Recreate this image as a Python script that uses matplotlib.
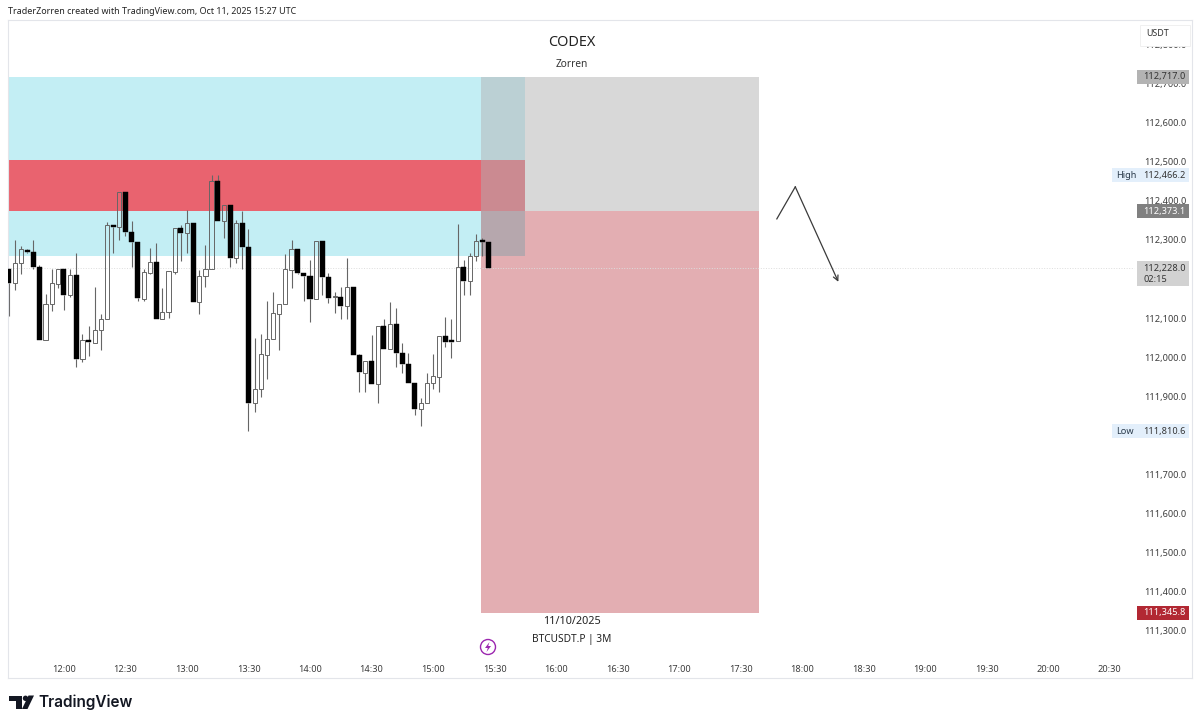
import matplotlib
matplotlib.use("Agg")
import matplotlib.pyplot as plt
from matplotlib.patches import Rectangle, Polygon, Circle

plt.rcParams['font.family'] = ['Noto Sans', 'DejaVu Sans']

# bars are numbered from the 12:00 candle, 3 minutes each
first_bar = -9
opens = [112227, 112191, 112242, 112274, 112269, 112232, 112043, 112136, 112187, 112225,
         112159, 112211, 111995, 112045, 112037, 112071, 112099, 112339, 112334, 112423,
         112321, 112295, 112150, 112216, 112243, 112099, 112116, 112219, 112330, 112319,
         112344, 112142, 112208, 112227, 112451, 112349, 112389, 112255, 112343, 112283,
         111882, 111919, 112007, 112046, 112111, 112137, 112223, 112277, 112215, 112208,
         112149, 112297, 112206, 112154, 112153, 112132, 112179, 112007, 111961, 111990,
         111931, 112080, 112020, 112085, 112012, 111984, 111935, 111868, 111883, 111935,
         111950, 112054, 112042, 112042, 112230, 112196, 112259, 112298, 112295]
highs = [112227, 112300, 112285, 112276, 112300, 112236, 112161, 112226, 112225, 112225,
         112225, 112268, 112059, 112080, 112179, 112110, 112345, 112339, 112423, 112423,
         112349, 112295, 112227, 112280, 112293, 112176, 112220, 112330, 112339, 112377,
         112344, 112223, 112288, 112465, 112466, 112389, 112389, 112350, 112375, 112327,
         112049, 112059, 112143, 112167, 112137, 112264, 112300, 112277, 112215, 112250,
         112297, 112297, 112215, 112167, 112179, 112255, 112179, 112009, 111991, 112058,
         112080, 112099, 112142, 112127, 112037, 112012, 111935, 111895, 111959, 112009,
         112054, 112102, 112099, 112341, 112249, 112266, 112315, 112304, 112295]
lows = [112105, 112173, 112213, 112268, 112226, 112045, 112043, 112118, 112176, 112122,
        112155, 111976, 111989, 112002, 112037, 112018, 112099, 112268, 112300, 112309,
        112230, 112143, 112144, 112212, 112099, 112099, 112101, 112213, 112247, 112268,
        112142, 112110, 112180, 112227, 112349, 112304, 112232, 112240, 112226, 111811,
        111859, 111899, 111945, 112046, 112018, 112137, 112178, 112213, 112144, 112090,
        112149, 112159, 112139, 112112, 112099, 112099, 112007, 111912, 111912, 111931,
        111882, 112020, 112020, 111976, 111959, 111935, 111852, 111824, 111883, 111919,
        111912, 112026, 111997, 112042, 112160, 112160, 112247, 112259, 112228]
closes = [112191, 112242, 112276, 112269, 112232, 112045, 112137, 112189, 112225, 112159,
          112211, 111995, 112045, 112038, 112071, 112099, 112339, 112334, 112423, 112321,
          112295, 112151, 112218, 112243, 112099, 112116, 112220, 112330, 112319, 112344,
          112142, 112209, 112227, 112451, 112349, 112389, 112255, 112343, 112281, 111882,
          111919, 112009, 112048, 112112, 112137, 112225, 112277, 112215, 112208, 112149,
          112297, 112206, 112152, 112155, 112132, 112179, 112007, 111962, 111990, 111931,
          112080, 112020, 112086, 112012, 111984, 111935, 111868, 111883, 111935, 111951,
          112054, 112039, 112040, 112230, 112196, 112259, 112298, 112296, 112228]

price_ticks = [112800, 112700, 112600, 112500, 112400, 112300, 112100, 112000, 111900,
               111700, 111600, 111500, 111400, 111300]
time_bars = [0, 10, 20, 30, 40, 50, 60, 70, 80, 90, 100, 110, 120, 130, 140, 150, 160, 170]
time_labels = ["12:00", "12:30", "13:00", "13:30", "14:00", "14:30", "15:00", "15:30", "16:00",
               "16:30", "17:00", "17:30", "18:00", "18:30", "19:00", "19:30", "20:00", "20:30"]

# levels of the drawn zones
stop_price = 112717.0
entry_price = 112373.1
target_price = 111345.8
last_price = 112228.0
high_price = 112466.2
low_price = 111810.6
zone_top = 112505
zone_bottom = 112259
position_start = 67.8
zone_end = 75
position_end = 113

# the hand drawn arrow
arrow_bars = [115.9, 118.9, 125.9]
arrow_prices = [112354, 112436, 112193]

x_min, x_max = -9.1, 183.4
y_min, y_max = 111179.5, 112862.8

fig = plt.figure(figsize=(12, 7.25), dpi=100)
ax = fig.add_axes([8 / 1200, 1 - 678 / 725, 1184 / 1200, 658 / 725])
ax.set_xlim(x_min, x_max)
ax.set_ylim(y_min, y_max)


def zone(x0, x1, p0, p1, color):
    ax.add_patch(Rectangle((x0, p0), x1 - x0, p1 - p0, facecolor=color, edgecolor="none", zorder=1))


zone(position_start, position_end, entry_price, stop_price, "#d8d8d8")
zone(position_start, position_end, target_price, entry_price, "#e3aeb2")
zone(x_min, position_start, zone_bottom, stop_price, "#c3eef4")
zone(x_min, position_start, entry_price, zone_top, "#e9636f")
zone(position_start, zone_end, zone_top, stop_price, "#bbd0d4")
zone(position_start, zone_end, entry_price, zone_top, "#cb8a91")
zone(position_start, zone_end, zone_bottom, entry_price, "#b6a7ad")

ax.hlines(last_price, x_min, 174, color="#dddddd", lw=0.7, ls=":", zorder=1.5)

# candles, hollow when up so the zones show through
for n in range(len(opens)):
    x = first_bar + n
    up = closes[n] >= opens[n]
    bottom = min(opens[n], closes[n])
    top = max(opens[n], closes[n])
    ax.vlines(x, top, highs[n], color="#666666", lw=0.8, zorder=2)
    ax.vlines(x, lows[n], bottom, color="#666666", lw=0.8, zorder=2)
    height = max(top - bottom, 3)
    if up:
        ax.bar(x, height, 0.68, bottom, facecolor="none", edgecolor="#666666", lw=0.7, zorder=3)
    else:
        ax.bar(x, height, 0.82, bottom, facecolor="black", edgecolor="black", lw=0.3, zorder=3)

ax.plot(arrow_bars[:2], arrow_prices[:2], color="#3a3a3a", lw=0.9, zorder=4)
ax.annotate("", xy=(arrow_bars[2], arrow_prices[2]), xytext=(arrow_bars[1], arrow_prices[1]),
            arrowprops=dict(arrowstyle="->", color="#3a3a3a", lw=0.9, shrinkA=0, shrinkB=0,
                            mutation_scale=9), zorder=4)

# axis labels sit inside the frame like on the platform
ax.yaxis.tick_right()
ax.set_yticks(price_ticks)
ax.set_yticklabels([f"{p:,.1f}" for p in price_ticks], color="#3c3c3c", fontsize=6.6)
ax.tick_params(axis="y", length=0, pad=-34.5)
ax.set_xticks(time_bars)
ax.set_xticklabels(time_labels, color="#3c3c3c", fontsize=6.6)
ax.tick_params(axis="x", length=0, pad=-9.7)
for side in ax.spines.values():
    side.set_color("#e3e5ea")
    side.set_linewidth(0.8)


def tag(price, text, bg, fg, height=18, x0=174.5, x1=182.9, label=None, extra=None):
    lo = price - height
    hi = price + height
    if extra:
        lo = price - 46
    ax.add_patch(Rectangle((x0, lo), x1 - x0, hi - lo, facecolor=bg, edgecolor="none", zorder=5))
    ax.text(175.5, price, text, color=fg, fontsize=6.6, va="center", ha="left", zorder=6)
    if label:
        ax.text(171, price, label, color="#2a3a4a", fontsize=6.6, va="center", ha="left", zorder=6)
    if extra:
        ax.text(175.5, price - 29, extra, color=fg, fontsize=6.6, va="center", ha="left", zorder=6)


tag(stop_price, f"{stop_price:,.1f}", "#b3b3b3", "#333333")
tag(high_price, f"{high_price:,.1f}", "#e3effb", "#333333", x0=170.4, label="High")
tag(entry_price, f"{entry_price:,.1f}", "#808080", "white")
tag(last_price, f"{last_price:,.1f}", "#d2d2d2", "#333333", extra="02:15")
tag(low_price, f"{low_price:,.1f}", "#e3effb", "#333333", x0=170.4, label="Low")
tag(target_price, f"{target_price:,.1f}", "#b22833", "white")

# page furniture, placed in pixels on a full figure overlay
page = fig.add_axes([0, 0, 1, 1], zorder=10)
page.set_xlim(0, 1200)
page.set_ylim(725, 0)
page.axis("off")
page.add_patch(Rectangle((1140, 25), 50, 20.5, facecolor="white", edgecolor="#eeeeee", lw=0.6))
page.text(1158, 33.5, "USDT", fontsize=6.4, color="#333333", ha="center", va="center")
page.text(8, 11, "TraderZorren created with TradingView.com, Oct 11, 2025 15:27 UTC", fontsize=6.45,
          color="#222222", va="center")
page.text(572, 42.5, "CODEX", fontsize=10.4, color="#222222", ha="center", va="center")
page.text(572, 64, "Zorren", fontsize=7.3, color="#333333", ha="center", va="center")
page.text(572, 621.5, "11/10/2025", fontsize=7.8, color="#222222", ha="center", va="center")
page.text(572, 639.5, "BTCUSDT.P | 3M", fontsize=7.3, color="#222222", ha="center", va="center")
page.add_patch(Circle((488, 647), 7.5, facecolor="white", edgecolor="#9c27b0", lw=1))
page.add_patch(Polygon([(489.5, 642), (485, 648), (487.8, 648), (486.5, 652), (491, 646),
                        (488.2, 646)], facecolor="#9c27b0", edgecolor="none"))

# logo
page.add_patch(Polygon([(9, 695.5), (22, 695.5), (22, 709), (15.5, 709), (15.5, 701), (9, 701)],
                       facecolor="#131722", edgecolor="none"))
page.add_patch(Circle((25.5, 698.3), 2.7, facecolor="#131722", edgecolor="none"))
page.add_patch(Polygon([(28.5, 695.5), (34, 695.5), (27.5, 709), (22, 709)], facecolor="#131722",
                       edgecolor="none"))
page.text(38.5, 702, "TradingView", fontsize=11, fontweight="semibold", color="#131722", va="center",
          family=["Inter", "DejaVu Sans"])

fig.savefig("out.png", dpi=100)
